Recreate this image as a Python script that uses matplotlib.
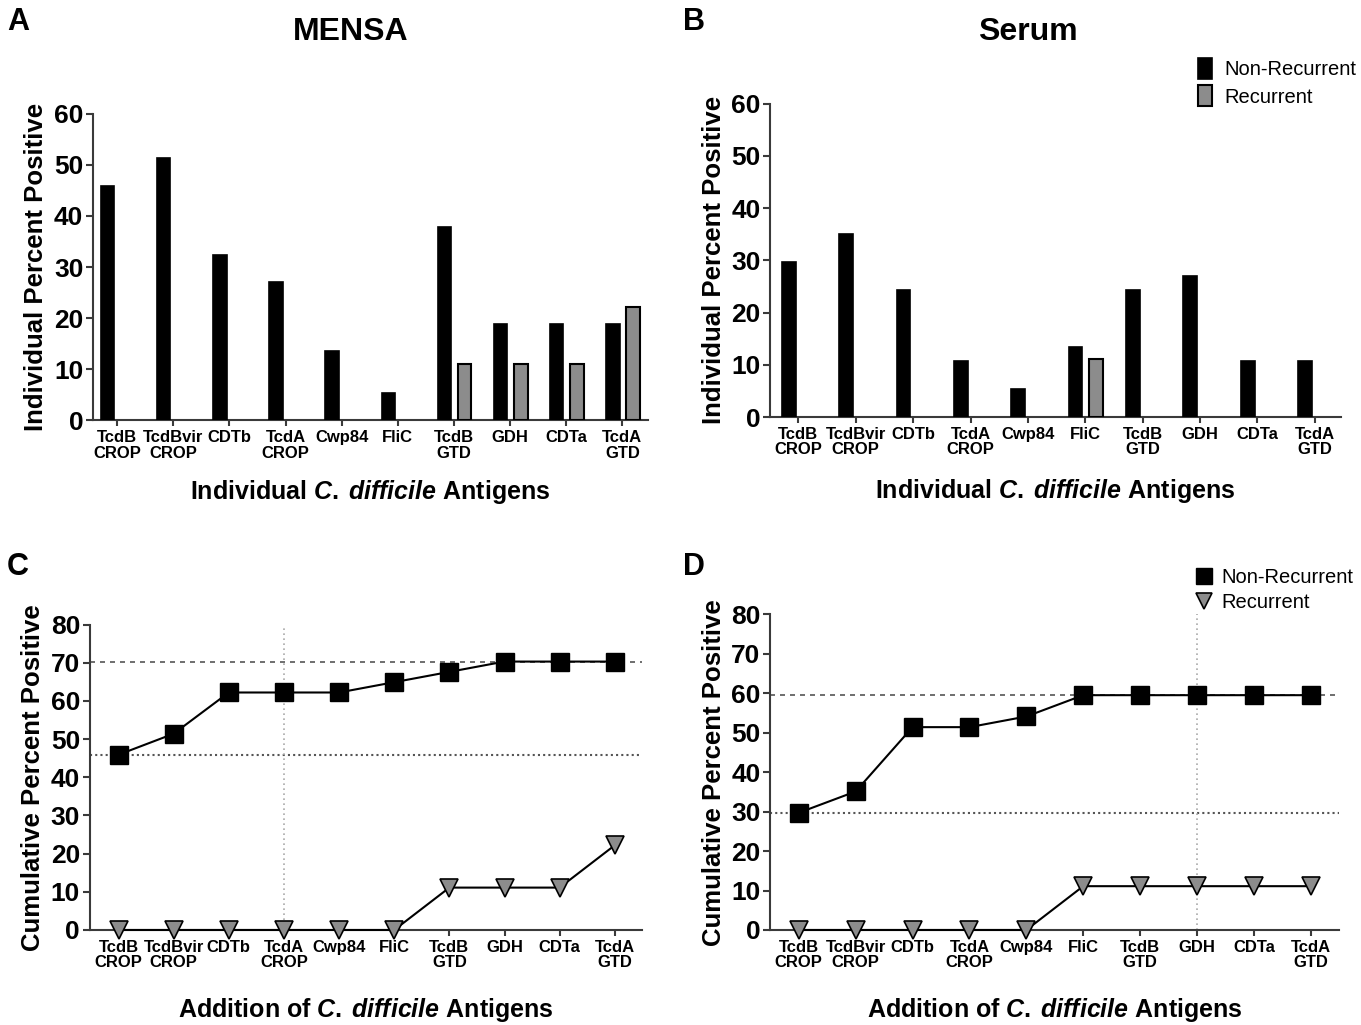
import matplotlib
matplotlib.use("Agg")
import matplotlib.pyplot as plt
import numpy as np

plt.rcParams['font.family'] = ['Liberation Sans', 'DejaVu Sans']
plt.rcParams['mathtext.fontset'] = 'custom'
plt.rcParams['mathtext.it'] = 'Liberation Sans:italic:bold'
plt.rcParams['mathtext.rm'] = 'Liberation Sans:bold'
plt.rcParams['mathtext.bf'] = 'Liberation Sans:bold'

# antigen order (same for all panels)
antigens = ["TcdB\nCROP", "TcdBvir\nCROP", "CDTb", "TcdA\nCROP", "Cwp84",
            "FliC", "TcdB\nGTD", "GDH", "CDTa", "TcdA\nGTD"]

# A: MENSA individual percent positive
mensa_nonrec = [45.9, 51.4, 32.4, 27.0, 13.5, 5.4, 37.8, 18.9, 18.9, 18.9]
mensa_rec = [0, 0, 0, 0, 0, 0, 11.1, 11.1, 11.1, 22.2]

# B: serum individual percent positive
serum_nonrec = [29.7, 35.1, 24.3, 10.8, 5.4, 13.5, 24.3, 27.0, 10.8, 10.8]
serum_rec = [0, 0, 0, 0, 0, 11.1, 0, 0, 0, 0]

# C: MENSA cumulative
mensa_cum_nonrec = [45.9, 51.4, 62.2, 62.2, 62.2, 64.9, 67.6, 70.3, 70.3, 70.3]
mensa_cum_rec = [0, 0, 0, 0, 0, 0, 11.1, 11.1, 11.1, 22.2]

# D: serum cumulative
serum_cum_nonrec = [29.7, 35.1, 51.4, 51.4, 54.1, 59.5, 59.5, 59.5, 59.5, 59.5]
serum_cum_rec = [0, 0, 0, 0, 0, 11.1, 11.1, 11.1, 11.1, 11.1]

SPINE = '#3a3a3a'
GRAY = '#8c8c8c'
SPECIES = r"$\mathit{C.\:difficile}$"

fig = plt.figure(figsize=(13.61, 10.25), dpi=100)

def style_axis(ax, ymax, xlim):
    ax.spines['top'].set_visible(False)
    ax.spines['right'].set_visible(False)
    for s in ['left', 'bottom']:
        ax.spines[s].set_color(SPINE)
        ax.spines[s].set_linewidth(1.5)
    ax.set_ylim(0, ymax)
    ax.set_xlim(*xlim)
    ax.set_yticks(np.arange(0, ymax + 1, 10))
    ax.tick_params(axis='y', labelsize=19, width=1.5, length=5, color=SPINE, pad=2)
    ax.tick_params(axis='x', labelsize=12, width=1.5, length=4, color=SPINE, pad=3)
    for lab in ax.get_yticklabels():
        lab.set_fontweight('bold')
    ax.set_xticks(np.arange(len(antigens)))
    ax.set_xticklabels(antigens, fontweight='bold', linespacing=1.05)


def bar_panel(rect, nonrec, rec, xlim, legend=False):
    ax = fig.add_axes(rect)
    x = np.arange(len(antigens))
    w = 0.24
    # zero-height bars get no outline so they don't show on the baseline
    lw_rec = [1.5 if v > 0 else 0 for v in rec]
    ax.bar(x - 0.17, nonrec, w, color='black', edgecolor='black', linewidth=1.2,
           label='Non-Recurrent', zorder=3)
    ax.bar(x + 0.19, rec, w, color=GRAY, edgecolor='black', linewidth=lw_rec,
           label='Recurrent', zorder=3)
    style_axis(ax, 60, xlim)
    ax.set_ylabel("Individual Percent Positive", fontsize=18.5, fontweight='bold', labelpad=4)
    ax.set_xlabel("Individual " + SPECIES + " Antigens", fontsize=18, fontweight='bold')
    ax.xaxis.set_label_coords(0.5, -0.19)
    if legend:
        leg = ax.legend(loc='upper left', bbox_to_anchor=(0.873, 0.953),
                        bbox_transform=fig.transFigure, frameon=False, fontsize=14.5,
                        handlelength=0.7, handleheight=1.2, handletextpad=0.6,
                        labelspacing=0.3, borderpad=0)
        leg.legend_handles[1].set_linewidth(1.5)
    return ax


def line_panel(rect, nonrec, rec, xlim, vline_x, label_y, legend=False):
    ax = fig.add_axes(rect)
    x = np.arange(len(antigens))
    ax.axhline(nonrec[0], color='#555555', ls=(0, (1, 1.5)), lw=1.5, zorder=1)
    ax.axhline(nonrec[-1], color='#555555', ls=(0, (3, 3)), lw=1.2, zorder=1)
    ax.axvline(vline_x, color='#aaaaaa', ls=(0, (1, 2)), lw=1.2, zorder=1)
    ax.plot(x, nonrec, color='black', lw=1.5, marker='s', markersize=13,
            markerfacecolor='black', markeredgecolor='black', label='Non-Recurrent',
            zorder=4, clip_on=False)
    ax.plot(x, rec, color='black', lw=1.5, marker='v', markersize=13,
            markerfacecolor=GRAY, markeredgecolor='black', markeredgewidth=1.2,
            label='Recurrent', zorder=4, clip_on=False)
    style_axis(ax, 80, xlim)
    ax.set_ylabel("Cumulative Percent Positive", fontsize=18.5, fontweight='bold', labelpad=4)
    ax.set_xlabel("Addition of " + SPECIES + " Antigens", fontsize=18, fontweight='bold')
    ax.xaxis.set_label_coords(0.5, label_y)
    if legend:
        ax.legend(loc='upper left', bbox_to_anchor=(0.871, 0.456), bbox_transform=fig.transFigure,
                  frameon=False, fontsize=14.5, handlelength=0.8, handletextpad=0.5,
                  labelspacing=0.3, borderpad=0, markerscale=0.85)
        for h in ax.get_legend().get_lines():
            h.set_linestyle('none')
    return ax


bar_panel([0.0683, 0.590, 0.408, 0.299], mensa_nonrec, mensa_rec, (-0.43, 9.46))
bar_panel([0.566, 0.593, 0.419, 0.306], serum_nonrec, serum_rec, (-0.49, 9.45), legend=True)
line_panel([0.066, 0.0927, 0.406, 0.298], mensa_cum_nonrec, mensa_cum_rec, (-0.52, 9.5), 3, -0.215)
line_panel([0.566, 0.0927, 0.418, 0.308], serum_cum_nonrec, serum_cum_rec, (-0.5, 9.5), 7, -0.208,
           legend=True)

# panel titles
fig.text(0.258, 0.969, "MENSA", fontsize=23, fontweight='bold', ha='center', va='center')
fig.text(0.755, 0.969, "Serum", fontsize=23, fontweight='bold', ha='center', va='center')

# panel letters
for lx, ly, t in [(0.005, 0.979, "A"), (0.502, 0.979, "B"), (0.005, 0.447, "C"), (0.502, 0.447, "D")]:
    fig.text(lx, ly, t, fontsize=22, fontweight='bold', va='center', ha='left')

fig.savefig("out.png", dpi=100)
